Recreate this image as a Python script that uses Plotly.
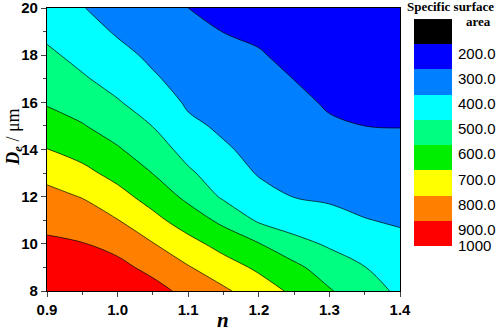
import plotly.graph_objects as go

# ------------------------------
# Data
# ------------------------------

n_vals = [0.90, 0.95, 1.00, 1.05, 1.10, 1.15, 1.20, 1.25, 1.30, 1.35, 1.40]
de_vals = [8, 9, 10, 11, 12, 13, 14, 15, 16, 17, 18, 19, 20]

# specific surface area, one row per De value (8 -> 20), one column per n
ssa = [
    [980, 975, 975, 937, 870, 816, 749, 681, 609, 536, 485],
    [948, 939, 928, 871, 807, 742, 683, 624, 548, 502, 452],
    [915, 904, 868, 804, 732, 665, 604, 529, 488, 453, 420],
    [875, 851, 803, 728, 652, 576, 487, 455, 429, 403, 391],
    [828, 796, 733, 661, 577, 486, 433, 398, 387, 376, 367],
    [772, 726, 669, 598, 515, 448, 393, 378, 361, 351, 344],
    [702, 664, 609, 548, 465, 411, 375, 358, 336, 325, 321],
    [644, 606, 557, 498, 419, 385, 357, 338, 310, 300, 298],
    [591, 558, 507, 455, 387, 363, 340, 318, 291, 285, 283],
    [554, 510, 466, 411, 366, 342, 322, 299, 276, 270, 268],
    [517, 473, 427, 382, 344, 320, 305, 284, 261, 255, 253],
    [480, 438, 390, 358, 322, 299, 289, 269, 246, 240, 238],
    [445, 403, 369, 334, 300, 284, 274, 254, 231, 225, 223],
]

levels = [200, 300, 400, 500, 600, 700, 800, 900, 1000]
level_labels = ["200.0", "300.0", "400.0", "500.0", "600.0", "700.0", "800.0", "900.0", "1000"]
band_colors = [
    "#000000",
    "#0000FF",
    "#0080FF",
    "#00FFFF",
    "#00FF80",
    "#00EE00",
    "#FFFF00",
    "#FF8000",
    "#FF0000",
]

step = levels[1] - levels[0]
nb = len(band_colors)
cscale = [[k / (nb - 1), c] for k, c in enumerate(band_colors)]

# band centres for the hand-made legend bar (low values on top)
band_mid = [levels[0] - step / 2 + k * step for k in range(nb)]

axis_font = dict(family="Liberation Sans", size=15, color="black")
serif = "Liberation Serif"

fig = go.Figure()

fig.add_trace(
    go.Contour(
        x=n_vals,
        y=de_vals,
        z=ssa,
        contours=dict(start=levels[0], end=levels[-2], size=step, coloring="fill"),
        colorscale=cscale,
        line=dict(color="black", width=0.7, smoothing=1),
        showscale=False,
        hovertemplate="n=%{x}<br>De=%{y}<br>%{z}<extra></extra>",
    )
)

# legend bar drawn as a one-column heatmap
fig.add_trace(
    go.Heatmap(
        x=[0],
        y=band_mid,
        z=[[v] for v in band_mid],
        colorscale=cscale,
        zmin=band_mid[0],
        zmax=band_mid[-1],
        showscale=False,
        xaxis="x2",
        yaxis="y2",
        hoverinfo="skip",
    )
)

fig.update_layout(
    width=498,
    height=331,
    margin=dict(l=47, r=0, t=8, b=40),
    plot_bgcolor="white",
    paper_bgcolor="white",
    showlegend=False,
    xaxis=dict(
        domain=[0, 0.7827],
        range=[0.9, 1.4],
        dtick=0.1,
        tickformat=".1f",
        ticks="outside",
        ticklen=5,
        tickwidth=1.2,
        minor=dict(dtick=0.05, ticks="outside", ticklen=3, tickwidth=1),
        showline=True,
        linecolor="black",
        linewidth=1.2,
        mirror=True,
        showgrid=False,
        zeroline=False,
        automargin=False,
        ticklabeloverflow="allow",
        tickfont=dict(axis_font, weight="bold"),
    ),
    yaxis=dict(
        range=[8, 20],
        dtick=2,
        ticks="outside",
        ticklen=5,
        tickwidth=1.2,
        minor=dict(dtick=1, ticks="outside", ticklen=3, tickwidth=1),
        showline=True,
        linecolor="black",
        linewidth=1.2,
        mirror=True,
        showgrid=False,
        zeroline=False,
        automargin=False,
        ticklabeloverflow="allow",
        tickfont=dict(axis_font, weight="bold"),
    ),
    xaxis2=dict(
        domain=[0.8137, 0.898],
        range=[-0.5, 0.5],
        anchor="y2",
        showticklabels=False,
        showgrid=False,
        zeroline=False,
        automargin=False,
        fixedrange=True,
    ),
    yaxis2=dict(
        domain=[0.159, 0.961],
        range=[levels[-1], levels[0] - step],
        anchor="x2",
        side="right",
        tickvals=[v + 36 for v in levels[:-1]] + [levels[-1]],
        ticktext=level_labels,
        ticks="",
        ticklabelstandoff=5,
        showgrid=False,
        zeroline=False,
        automargin=False,
        ticklabeloverflow="allow",
        fixedrange=True,
        tickfont=axis_font,
    ),
)

# axis titles and legend title
ann = dict(xref="paper", yref="paper", showarrow=False, xanchor="center", yanchor="middle")
fig.add_annotation(
    text="<b><i>n</i></b>", x=0.39, y=-0.102,
    font=dict(family=serif, size=21, color="black"), **ann,
)
fig.add_annotation(
    text="<b><i>D<sub>e</sub></i></b> / μm", x=-0.074, y=0.544, textangle=-90,
    font=dict(family=serif, size=18, color="black"), **ann,
)
fig.add_annotation(
    text="<b>Specific surface</b>", x=0.8936, y=1.007,
    font=dict(family=serif, size=13, color="black"), **ann,
)
fig.add_annotation(
    text="<b>area</b>", x=0.9557, y=0.952,
    font=dict(family=serif, size=13, color="black"), **ann,
)

# drop the default page margin so the figure sits at the window corner
fig.write_html(
    "out.html",
    config={"displayModeBar": False},
    post_script="document.body.style.margin='0';",
)
